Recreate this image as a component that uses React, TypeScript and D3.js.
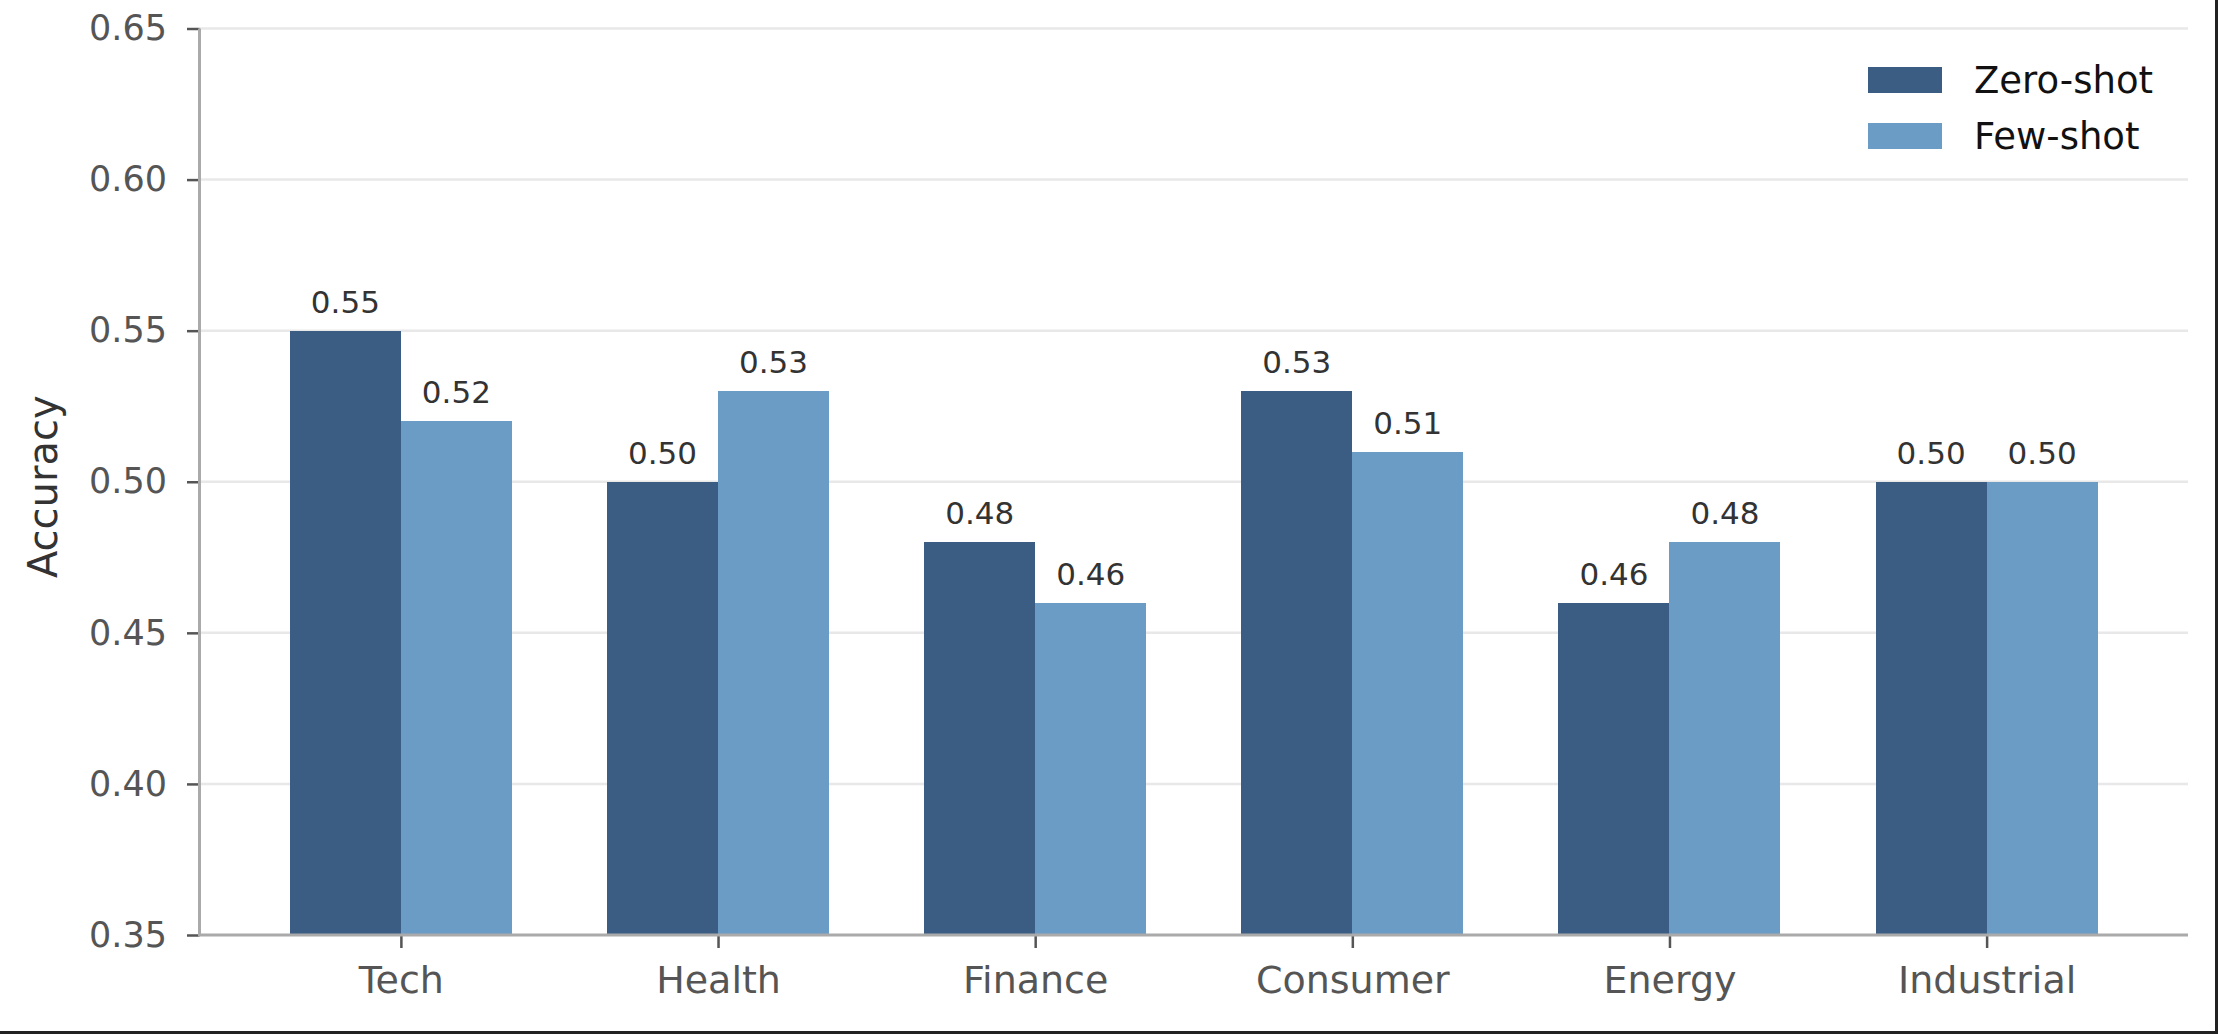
import { useRef, useEffect } from "react";
import * as d3 from "d3";

const categories = ["Tech", "Health", "Finance", "Consumer", "Energy", "Industrial"];
const zeroShot = [0.55, 0.5, 0.48, 0.53, 0.46, 0.5];
const fewShot = [0.52, 0.53, 0.46, 0.51, 0.48, 0.5];
const seriesNames = ["Zero-shot", "Few-shot"];
const seriesColors = ["#3b5d84", "#6a9cc6"];
const yTicks = [0.35, 0.4, 0.45, 0.5, 0.55, 0.6, 0.65];

export default function App() {
  const svgRef = useRef<SVGSVGElement>(null);

  useEffect(() => {
    if (!svgRef.current) return;
    const svg = d3.select(svgRef.current);
    svg.selectAll("*").remove();
    const font = "DejaVu Sans";

    const left = 199.5;
    const right = 2188;
    const top = 28.5;
    const bottom = 935;
    const barW = 0.35;

    const x = d3.scaleLinear().domain([-0.635, 5.635]).range([left, right]);
    const y = d3.scaleLinear().domain([0.35, 0.65]).range([bottom, top]);

    // grid
    svg
      .append("g")
      .selectAll("line")
      .data(yTicks.slice(1))
      .enter()
      .append("line")
      .attr("x1", left)
      .attr("x2", right)
      .attr("y1", (d) => y(d))
      .attr("y2", (d) => y(d))
      .attr("stroke", "#e8e8e8")
      .attr("stroke-width", 2.5);

    const series = [zeroShot, fewShot];
    series.forEach((vals, s) => {
      const g = svg.append("g");
      g.selectAll("rect")
        .data(vals)
        .enter()
        .append("rect")
        .attr("x", (_, i) => x(i - barW + s * barW))
        .attr("width", x(barW) - x(0))
        .attr("y", (d) => y(d))
        .attr("height", (d) => bottom - y(d))
        .attr("fill", seriesColors[s])
        .attr("shape-rendering", "crispEdges");
      g.selectAll("text")
        .data(vals)
        .enter()
        .append("text")
        .attr("x", (_, i) => x(i - barW / 2 + s * barW))
        .attr("y", (d) => y(d) - 18)
        .attr("text-anchor", "middle")
        .attr("font-family", font)
        .attr("font-size", 31)
        .attr("fill", "#333333")
        .text((d) => d3.format(".2f")(d));
    });

    // y axis
    const yAxis = svg
      .append("g")
      .attr("transform", `translate(${left},0)`)
      .call(
        d3
          .axisLeft(y)
          .tickValues(yTicks)
          .tickSize(12.5)
          .tickPadding(20)
          .tickFormat((d) => d3.format(".2f")(d as number))
      );
    yAxis.select(".domain").remove();
    yAxis.selectAll(".tick line").attr("stroke", "#555555").attr("stroke-width", 2.5);
    yAxis
      .selectAll(".tick text")
      .attr("font-family", font)
      .attr("font-size", 35)
      .attr("fill", "#555555");

    // x axis
    const xAxis = svg
      .append("g")
      .attr("transform", `translate(0,${bottom})`)
      .call(
        d3
          .axisBottom(x)
          .tickValues(d3.range(categories.length))
          .tickSize(13)
          .tickPadding(18)
          .tickFormat((d) => categories[d as number])
      );
    xAxis.select(".domain").remove();
    xAxis.selectAll(".tick line").attr("stroke", "#555555").attr("stroke-width", 2.5);
    xAxis
      .selectAll(".tick text")
      .attr("font-family", font)
      .attr("font-size", 38)
      .attr("fill", "#555555");

    // spines
    svg
      .append("line")
      .attr("x1", left)
      .attr("x2", left)
      .attr("y1", top)
      .attr("y2", bottom)
      .attr("stroke", "#aaaaaa")
      .attr("stroke-width", 3);
    svg
      .append("line")
      .attr("x1", left - 1.5)
      .attr("x2", right)
      .attr("y1", bottom)
      .attr("y2", bottom)
      .attr("stroke", "#aaaaaa")
      .attr("stroke-width", 3);

    // y label
    svg
      .append("text")
      .attr("transform", `translate(57,${(top + bottom) / 2 + 5}) rotate(-90)`)
      .attr("text-anchor", "middle")
      .attr("font-family", font)
      .attr("font-size", 40)
      .attr("fill", "#333333")
      .text("Accuracy");

    // legend
    const legend = svg.append("g");
    seriesNames.forEach((name, s) => {
      const ly = 80 + s * 56;
      legend
        .append("rect")
        .attr("x", 1868)
        .attr("y", ly - 13)
        .attr("width", 74)
        .attr("height", 26)
        .attr("fill", seriesColors[s]);
      legend
        .append("text")
        .attr("x", 1974)
        .attr("y", ly)
        .attr("dy", "0.36em")
        .attr("font-family", font)
        .attr("font-size", 37)
        .attr("fill", "#111111")
        .text(name);
    });

    // frame edges from the screenshot
    svg
      .append("line")
      .attr("x1", 2216.5)
      .attr("x2", 2216.5)
      .attr("y1", 0)
      .attr("y2", 1034)
      .attr("stroke", "#222222")
      .attr("stroke-width", 3);
    svg
      .append("line")
      .attr("x1", 0)
      .attr("x2", 2218)
      .attr("y1", 1032.5)
      .attr("y2", 1032.5)
      .attr("stroke", "#222222")
      .attr("stroke-width", 3);
  }, []);

  return (
    <svg
      ref={svgRef}
      width={2218}
      height={1034}
      viewBox="0 0 2218 1034"
      style={{ position: "absolute", left: 0, top: 0, background: "white" }}
    />
  );
}
